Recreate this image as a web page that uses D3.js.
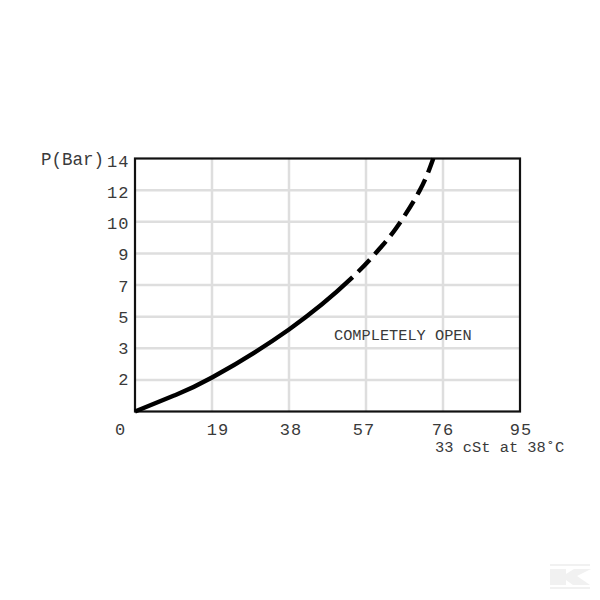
<!DOCTYPE html>
<html><head><meta charset="utf-8">
<script src="https://cdn.jsdelivr.net/npm/d3@7"></script>
<style>html,body{margin:0;padding:0;background:#fff}svg{display:block}text{font-family:"Liberation Mono",monospace;fill:#3a3a3a}</style>
</head><body><svg id="c" width="600" height="600"></svg>
<script>
const xTicks=[19,38,57,76];
const xLabels=[0,19,38,57,76,95];
const yTicks=[1.75,3.5,5.25,7,8.75,10.5,12.25,14];
const yLabels=["2","3","5","7","9","10","12","14"];
const curveX=[0,9.5,19,38,53.5,60.5,64.6,70.3,73.6];
const curveY=[0,0.87,1.88,4.54,7.39,9.05,10.2,12.25,14];
const solidEndX=53.5;
const svg=d3.select("#c");
const m={l:135,r:520,t:158.5,b:411.5};
const x=d3.scaleLinear().domain([0,95]).range([m.l,m.r]);
const y=d3.scaleLinear().domain([0,14]).range([m.b,m.t]);
// the printed labels sit on a slightly tighter pitch than the grid
const yLabel=d3.scaleLinear().domain([1.75,14]).range([385,167]);
const grid="#dedede";
svg.selectAll(".gx").data(xTicks).join("line").attr("x1",d=>x(d)).attr("x2",d=>x(d)).attr("y1",m.t).attr("y2",m.b).attr("stroke",grid).attr("stroke-width",2.5);
svg.selectAll(".gy").data(yTicks.slice(0,-1)).join("line").attr("x1",m.l).attr("x2",m.r).attr("y1",d=>y(d)).attr("y2",d=>y(d)).attr("stroke",grid).attr("stroke-width",2.5);
svg.append("rect").attr("x",m.l).attr("y",m.t).attr("width",m.r-m.l).attr("height",m.b-m.t).attr("fill","none").attr("stroke","#111").attr("stroke-width",2.2);
const line=d3.line().x(d=>x(d[0])).y(d=>y(d[1])).curve(d3.curveNatural);
const path=svg.append("path").attr("d",line(d3.zip(curveX,curveY))).attr("fill","none").attr("stroke","#000").attr("stroke-width",4.4);
const node=path.node();
const total=node.getTotalLength();
// path length at which the solid stretch stops
let lo=0,hi=total;
for(let i=0;i<30;i++){const mid=(lo+hi)/2;if(node.getPointAtLength(mid).x<x(solidEndX))lo=mid;else hi=mid;}
const dashes=[lo+1];
for(let run=lo;run<total;run+=24.5)dashes.push(7.5,17);
path.attr("stroke-dasharray",dashes.join(" "));
const xShift=[-14.5,6,2,-2,0,1];
svg.selectAll(".xl").data(xLabels).join("text").attr("x",(d,i)=>x(d)+xShift[i]).attr("y",435).attr("text-anchor","middle").attr("font-size",17).attr("letter-spacing",1).text(d=>d);
svg.selectAll(".yl").data(yTicks).join("text").attr("x",129.5).attr("y",d=>yLabel(d)).attr("text-anchor","end").attr("font-size",17).attr("letter-spacing",1).text((d,i)=>yLabels[i]);
svg.append("text").attr("x",41).attr("y",165).attr("font-size",17.5).text("P(Bar)");
svg.append("text").attr("x",334).attr("y",340).attr("font-size",15.3).text("COMPLETELY OPEN");
svg.append("text").attr("x",435).attr("y",452).attr("font-size",15.4).text("33 cSt at 38˚C");
// faint logo
const logo=svg.append("g").attr("fill","#f1f1f1");
logo.append("rect").attr("x",550).attr("y",564).attr("width",40).attr("height",2);
logo.append("rect").attr("x",550).attr("y",587).attr("width",40).attr("height",2);
logo.append("path").attr("d","M550 569H566V574L574 569H591L577 576L590 585H573L566 580V585H550Z");
</script></body></html>
